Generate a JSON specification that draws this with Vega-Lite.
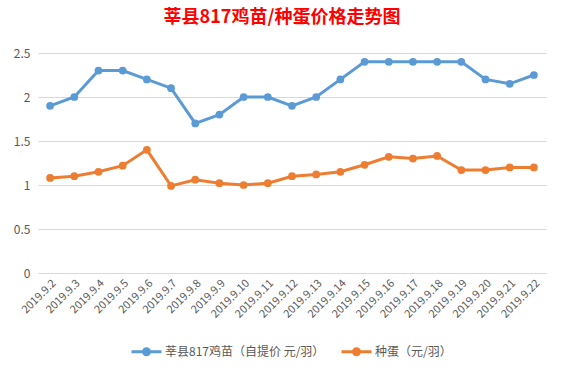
{
  "$schema": "https://vega.github.io/schema/vega-lite/v6.json",
  "width": 508,
  "height": 220,
  "autosize": "none",
  "padding": {"left": 38, "top": 53, "right": 18, "bottom": 99},
  "background": "white",
  "config": {
    "font": "Noto Sans CJK SC",
    "view": {"stroke": null}
  },
  "title": {
    "text": "莘县817鸡苗/种蛋价格走势图",
    "color": "#ff0000",
    "fontSize": 18,
    "fontWeight": "bold",
    "font": "Noto Sans CJK SC",
    "anchor": "middle",
    "dx": -10,
    "offset": 20
  },
  "data": {
    "values": [
      {"date": "2019.9.2", "series": "莘县817鸡苗（自提价 元/羽）", "price": 1.9},
      {"date": "2019.9.3", "series": "莘县817鸡苗（自提价 元/羽）", "price": 2.0},
      {"date": "2019.9.4", "series": "莘县817鸡苗（自提价 元/羽）", "price": 2.3},
      {"date": "2019.9.5", "series": "莘县817鸡苗（自提价 元/羽）", "price": 2.3},
      {"date": "2019.9.6", "series": "莘县817鸡苗（自提价 元/羽）", "price": 2.2},
      {"date": "2019.9.7", "series": "莘县817鸡苗（自提价 元/羽）", "price": 2.1},
      {"date": "2019.9.8", "series": "莘县817鸡苗（自提价 元/羽）", "price": 1.7},
      {"date": "2019.9.9", "series": "莘县817鸡苗（自提价 元/羽）", "price": 1.8},
      {"date": "2019.9.10", "series": "莘县817鸡苗（自提价 元/羽）", "price": 2.0},
      {"date": "2019.9.11", "series": "莘县817鸡苗（自提价 元/羽）", "price": 2.0},
      {"date": "2019.9.12", "series": "莘县817鸡苗（自提价 元/羽）", "price": 1.9},
      {"date": "2019.9.13", "series": "莘县817鸡苗（自提价 元/羽）", "price": 2.0},
      {"date": "2019.9.14", "series": "莘县817鸡苗（自提价 元/羽）", "price": 2.2},
      {"date": "2019.9.15", "series": "莘县817鸡苗（自提价 元/羽）", "price": 2.4},
      {"date": "2019.9.16", "series": "莘县817鸡苗（自提价 元/羽）", "price": 2.4},
      {"date": "2019.9.17", "series": "莘县817鸡苗（自提价 元/羽）", "price": 2.4},
      {"date": "2019.9.18", "series": "莘县817鸡苗（自提价 元/羽）", "price": 2.4},
      {"date": "2019.9.19", "series": "莘县817鸡苗（自提价 元/羽）", "price": 2.4},
      {"date": "2019.9.20", "series": "莘县817鸡苗（自提价 元/羽）", "price": 2.2},
      {"date": "2019.9.21", "series": "莘县817鸡苗（自提价 元/羽）", "price": 2.15},
      {"date": "2019.9.22", "series": "莘县817鸡苗（自提价 元/羽）", "price": 2.25},
      {"date": "2019.9.2", "series": "种蛋（元/羽）", "price": 1.08},
      {"date": "2019.9.3", "series": "种蛋（元/羽）", "price": 1.1},
      {"date": "2019.9.4", "series": "种蛋（元/羽）", "price": 1.15},
      {"date": "2019.9.5", "series": "种蛋（元/羽）", "price": 1.22},
      {"date": "2019.9.6", "series": "种蛋（元/羽）", "price": 1.4},
      {"date": "2019.9.7", "series": "种蛋（元/羽）", "price": 0.99},
      {"date": "2019.9.8", "series": "种蛋（元/羽）", "price": 1.06},
      {"date": "2019.9.9", "series": "种蛋（元/羽）", "price": 1.02},
      {"date": "2019.9.10", "series": "种蛋（元/羽）", "price": 1.0},
      {"date": "2019.9.11", "series": "种蛋（元/羽）", "price": 1.02},
      {"date": "2019.9.12", "series": "种蛋（元/羽）", "price": 1.1},
      {"date": "2019.9.13", "series": "种蛋（元/羽）", "price": 1.12},
      {"date": "2019.9.14", "series": "种蛋（元/羽）", "price": 1.15},
      {"date": "2019.9.15", "series": "种蛋（元/羽）", "price": 1.23},
      {"date": "2019.9.16", "series": "种蛋（元/羽）", "price": 1.32},
      {"date": "2019.9.17", "series": "种蛋（元/羽）", "price": 1.3},
      {"date": "2019.9.18", "series": "种蛋（元/羽）", "price": 1.33},
      {"date": "2019.9.19", "series": "种蛋（元/羽）", "price": 1.17},
      {"date": "2019.9.20", "series": "种蛋（元/羽）", "price": 1.17},
      {"date": "2019.9.21", "series": "种蛋（元/羽）", "price": 1.2},
      {"date": "2019.9.22", "series": "种蛋（元/羽）", "price": 1.2}
    ]
  },
  "mark": {"type": "line", "strokeWidth": 3, "point": {"filled": true, "size": 60}},
  "encoding": {
    "x": {
      "field": "date",
      "type": "ordinal",
      "sort": null,
      "scale": {"type": "band", "paddingInner": 0, "paddingOuter": 0},
      "axis": {
        "title": null,
        "labelAngle": -45,
        "labelColor": "#595959",
        "labelFontSize": 11,
        "domain": false,
        "ticks": false,
        "labelPadding": 4
      }
    },
    "y": {
      "field": "price",
      "type": "quantitative",
      "scale": {"domain": [0, 2.5], "nice": false},
      "axis": {
        "title": null,
        "values": [0, 0.5, 1, 1.5, 2, 2.5],
        "format": "~g",
        "labelColor": "#595959",
        "labelFontSize": 12,
        "domain": false,
        "ticks": false,
        "gridColor": "#d9d9d9",
        "labelPadding": 8
      }
    },
    "color": {
      "field": "series",
      "type": "nominal",
      "sort": null,
      "scale": {
        "domain": ["莘县817鸡苗（自提价 元/羽）", "种蛋（元/羽）"],
        "range": ["#5b9bd5", "#ed7d31"]
      },
      "legend": {
        "title": null,
        "orient": "none",
        "legendX": 92,
        "legendY": 282,
        "direction": "horizontal",
        "symbolType": "M-1,0L1,0M0.2,0A0.2,0.2,0,1,1,-0.2,0A0.2,0.2,0,1,1,0.2,0",
        "symbolSize": 900,
        "symbolStrokeWidth": 3,
        "labelColor": "#595959",
        "labelFontSize": 12,
        "labelOffset": 2,
        "columnPadding": 10
      }
    }
  }
}
